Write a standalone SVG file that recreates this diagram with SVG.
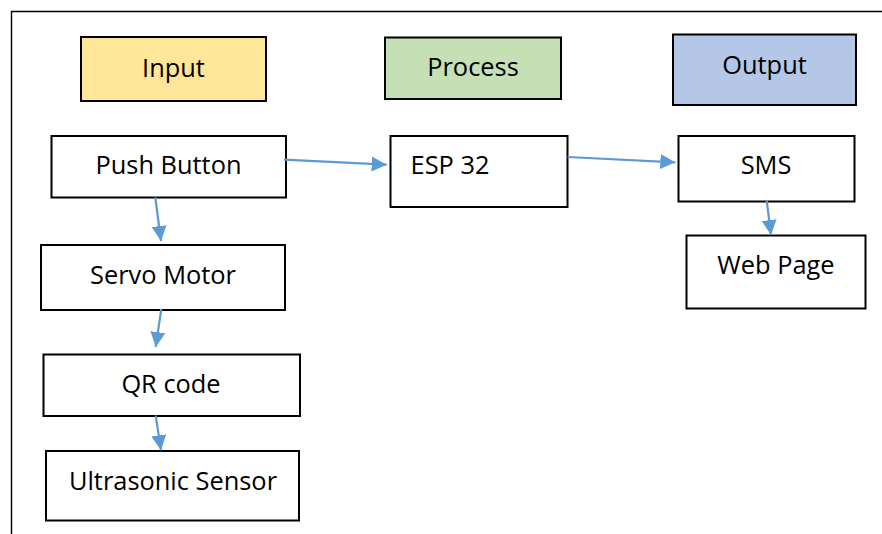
<svg xmlns="http://www.w3.org/2000/svg" width="882" height="534" viewBox="0 0 882 534">
<style>
.box{fill:#fff;stroke:#000;stroke-width:2}
.t{font-family:"Open Sans","Liberation Sans",sans-serif;font-size:25.4px;fill:#000;text-anchor:middle}
.c{fill:none;stroke:#5B9BD5;stroke-width:2.2}
</style>
<defs>
<marker id="ah" markerUnits="userSpaceOnUse" markerWidth="16" markerHeight="16" refX="15" refY="8" orient="auto">
<path d="M0,0.5 L15,8 L0,15.5 z" fill="#5B9BD5"/>
</marker>
</defs>
<rect width="882" height="534" fill="#fff"/>
<path d="M11.5,534 V11.5 H882" fill="none" stroke="#000" stroke-width="1.4"/>
<g id="input"><rect class="box" x="81" y="37" width="185" height="64" style="fill:#FFE699"/><text class="t" x="173.5" y="76.5">Input</text></g>
<g id="process"><rect class="box" x="385" y="37.5" width="176" height="61.5" style="fill:#C5E0B4"/><text class="t" x="473" y="76">Process</text></g>
<g id="output"><rect class="box" x="673" y="34.5" width="183" height="70.5" style="fill:#B4C7E7"/><text class="t" x="764.5" y="73.5">Output</text></g>
<g id="push-button"><rect class="box" x="51.5" y="136" width="234.5" height="61.5"/><text class="t" x="168.5" y="174">Push Button</text></g>
<g id="esp32"><rect class="box" x="390.5" y="136" width="177" height="71"/><text class="t" x="450" y="174">ESP 32</text></g>
<g id="sms"><rect class="box" x="678.5" y="136" width="176" height="65.5"/><text class="t" x="766" y="174">SMS</text></g>
<g id="web-page"><rect class="box" x="686.5" y="235.5" width="179" height="73"/><text class="t" x="776" y="274">Web Page</text></g>
<g id="servo-motor"><rect class="box" x="41" y="245" width="244" height="65"/><text class="t" x="163" y="284">Servo Motor</text></g>
<g id="qr-code"><rect class="box" x="43.5" y="354.5" width="256.5" height="61.5"/><text class="t" x="171" y="393">QR code</text></g>
<g id="ultrasonic-sensor"><rect class="box" x="46" y="451" width="253" height="69.5"/><text class="t" x="173" y="489.5">Ultrasonic Sensor</text></g>
<g id="connectors">
<line class="c" x1="284" y1="159.7" x2="386.7" y2="164.7" marker-end="url(#ah)"/>
<line class="c" x1="155.3" y1="197.5" x2="161" y2="241" marker-end="url(#ah)"/>
<line class="c" x1="567.7" y1="157" x2="675.3" y2="162.3" marker-end="url(#ah)"/>
<line class="c" x1="766.7" y1="200.5" x2="771" y2="235" marker-end="url(#ah)"/>
<line class="c" x1="161.3" y1="309" x2="155.7" y2="347" marker-end="url(#ah)"/>
<line class="c" x1="155.7" y1="415.5" x2="161" y2="450.3" marker-end="url(#ah)"/>
</g>
</svg>
